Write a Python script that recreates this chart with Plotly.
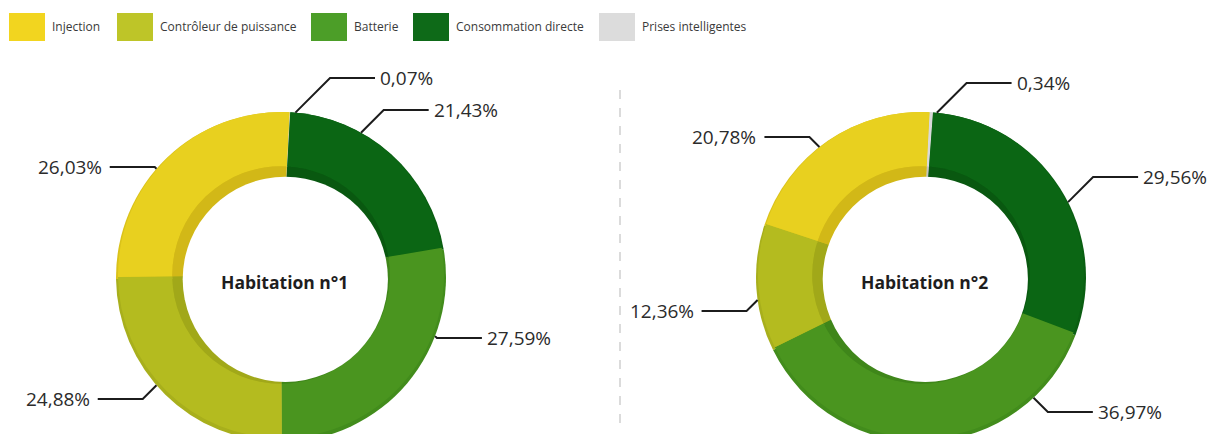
import math
import plotly.graph_objects as go

# ---------------- data ----------------
categories = ["Injection", "Contrôleur de puissance", "Batterie",
              "Consommation directe", "Prises intelligentes"]
# slice order around each ring (clockwise from 12 o'clock)
ring_order = ["Prises intelligentes", "Consommation directe", "Batterie",
              "Contrôleur de puissance", "Injection"]
hab1_values = [0.07, 21.43, 27.59, 24.88, 26.03]
hab2_values = [0.34, 29.56, 36.97, 12.36, 20.78]
titles = ["Habitation n°1", "Habitation n°2"]

# ---------------- styles / layout ----------------
W, H = 1229, 434
PAGE_OFF = 8                                  # default body margin of the html page
top_colors = {"Injection": "#E8D01F", "Contrôleur de puissance": "#B4BB1F",
              "Batterie": "#4A951F", "Consommation directe": "#0B6614",
              "Prises intelligentes": "#D9D9D9"}
wall_colors = {"Injection": "#D2B817", "Contrôleur de puissance": "#A1A819",
               "Batterie": "#3F861A", "Consommation directe": "#095810",
               "Prises intelligentes": "#C4C4C4"}
side_colors = {"Injection": "#DAC21A", "Contrôleur de puissance": "#A8AF1C",
               "Batterie": "#428C1C", "Consommation directe": "#0A5E12",
               "Prises intelligentes": "#CACACA"}
legend_colors = {"Injection": "#F2D51F", "Contrôleur de puissance": "#BEC528",
                 "Batterie": "#4C9E28", "Consommation directe": "#0E6A18",
                 "Prises intelligentes": "#DCDCDC"}
legend_x = [9, 117, 311, 413, 599]          # screen px, left edge of each swatch
R = 165                                      # outer radius in px
CY = 277                                     # ring centre (screen px)
SIDE = 4                                     # visible thickness of the outer side
ring_cx = [281, 921]
HOLE = 0.667
HOLE_MIN = 0.585
ROT = 3
# leader layout per ring: attach angle (deg, clockwise from top) and label row (screen px)
leader_angles = [[5, 29, 111, 229, 311], [5.5, 63, 137, 262, 322]]
leader_rows = [[78, 110, 338, 399, 167], [83, 177, 412, 311, 137]]
LABEL_FONT = "Open Sans, Noto Sans, sans-serif"


def px(x, y):
    """screen pixel -> paper coordinates"""
    return (x - PAGE_OFF) / W, 1 - (y - PAGE_OFF) / H


def dom(cx, cy, r):
    x0, y1 = px(cx - r, cy - r)
    x1, y0 = px(cx + r, cy + r)
    return dict(x=[max(0, x0), min(1, x1)], y=[max(0, y0), min(1, y1)])


def ring(values, colors, domain, hole=0.0, hover=True):
    return go.Pie(values=values, labels=ring_order, sort=False, direction="clockwise",
                  rotation=ROT, hole=hole, textinfo="none", showlegend=False,
                  hoverinfo=None if hover else "skip",
                  marker=dict(colors=[colors[c] for c in ring_order], line=dict(width=0)),
                  domain=domain)


fig = go.Figure()
shapes, annotations = [], []

for ri, (values, cx) in enumerate(zip([hab1_values, hab2_values], ring_cx)):
    # outer side of the tilted ring (only a thin rim shows at the bottom)
    fig.add_trace(ring(values, side_colors, dom(cx, CY, R), hover=False))
    # main (top surface) ring, lifted a little
    rt, cyt = R - SIDE / 2, CY - SIDE / 2
    fig.add_trace(ring(values, top_colors, dom(cx, cyt, rt), hole=HOLE))
    # inner wall (darker) seen through the tilted hole
    rin = HOLE * rt
    fig.add_trace(ring(values, wall_colors, dom(cx, cyt, rin), hover=False))
    # the hole itself, slightly offset towards the bottom-right
    rw, s = (rin + HOLE_MIN * R) / 2, (rin - HOLE_MIN * R) / 2
    hx, hy = cx + s * 0.707, cyt + s * 0.707
    x0, y1 = px(hx - rw, hy - rw)
    x1, y0 = px(hx + rw, hy + rw)
    shapes.append(dict(type="circle", xref="paper", yref="paper", x0=x0, x1=x1, y0=y0, y1=y1,
                       fillcolor="white", line=dict(width=0), layer="above"))
    tx, ty = px(hx - 1, hy + 3)
    annotations.append(dict(x=tx, y=ty, xref="paper", yref="paper", showarrow=False,
                            xanchor="center", yanchor="middle",
                            text="<b>" + titles[ri] + "</b>",
                            font=dict(family=LABEL_FONT, size=17.5, color="#1e1e1e")))
    # leader lines and percentage labels
    for v, ang, row in zip(values, leader_angles[ri], leader_rows[ri]):
        a = math.radians(ang)
        ax_, ay_ = cx + R * math.sin(a), CY - R * math.cos(a)
        ry = row
        side = 1 if ang < 180 else -1
        ex = ax_ + side * abs(ry - ay_)
        endx = ex + side * 45
        pts = [px(ax_, ay_), px(ex, ry), px(endx, ry)]
        path = "M {} {} L {} {} L {} {}".format(*[c for p in pts for c in p])
        shapes.append(dict(type="path", xref="paper", yref="paper", path=path,
                           line=dict(color="#1c1c1c", width=2), layer="above"))
        lx, ly = px(endx + side * (3 if side > 0 else 6), ry)
        annotations.append(dict(x=lx, y=ly, xref="paper", yref="paper", showarrow=False,
                                xanchor="left" if side > 0 else "right", yanchor="middle",
                                text=f"{v:.2f}".replace(".", ",") + "%",
                                font=dict(family=LABEL_FONT, size=19, color="#2b2b2b")))

# dashed separator
sx0, sy0 = px(620, 90)
sx1, sy1 = px(620, 425)
shapes.append(dict(type="line", xref="paper", yref="paper", x0=sx0, x1=sx1, y0=sy0, y1=sy1,
                   line=dict(color="#c4c4c4", width=1.2, dash="dash"), layer="above"))

# legend
for cat, lx in zip(categories, legend_x):
    x0, y1 = px(lx, 13)
    x1, y0 = px(lx + 36, 41)
    shapes.append(dict(type="rect", xref="paper", yref="paper", x0=x0, x1=x1, y0=y0, y1=y1,
                       fillcolor=legend_colors[cat], line=dict(width=0), layer="above"))
    tx, ty = px(lx + 41, 27)
    annotations.append(dict(x=tx, y=ty, xref="paper", yref="paper", showarrow=False,
                            xanchor="left", yanchor="middle", text=cat,
                            font=dict(family=LABEL_FONT, size=12, color="#3a3a3a")))

fig.update_layout(width=W, height=H, margin=dict(l=0, r=0, t=0, b=0),
                  paper_bgcolor="white", plot_bgcolor="white", showlegend=False,
                  shapes=shapes, annotations=annotations)
fig.write_html("out.html")
